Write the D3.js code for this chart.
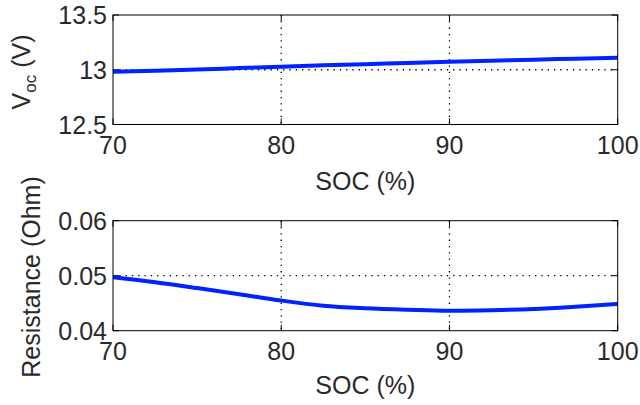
<!DOCTYPE html>
<html>
<head>
<meta charset="utf-8">
<script src="https://cdn.jsdelivr.net/npm/d3@7"></script>
<style>
  html, body { margin: 0; padding: 0; background: #fff; }
  svg { display: block; }
  text { font-family: "Liberation Sans", Arial, Helvetica, sans-serif; fill: #2a2a2a; }
</style>
</head>
<body>
<svg id="chart" width="640" height="405"></svg>
<script>
// ---- data ----
const soc = [70, 72.5, 75, 77.5, 80, 82.5, 85, 87.5, 90, 92.5, 95, 97.5, 100];
const voc = [12.982, 12.991, 13.002, 13.015, 13.028, 13.040, 13.050, 13.062, 13.072, 13.082, 13.092, 13.101, 13.110];
const resistance = [0.0497, 0.0488, 0.04775, 0.04664, 0.04548, 0.04455, 0.04409, 0.04382, 0.04364, 0.04373, 0.04395, 0.04436, 0.04485];
const xTicks = [70, 80, 90, 100];
const vocTicks = [12.5, 13, 13.5];
const resTicks = [0.04, 0.05, 0.06];
const xLabel = "SOC (%)";

const svg = d3.select("#chart");
const left = 113, right = 617.7;
const x = d3.scaleLinear().domain([70, 100]).range([left, right]);

function panel(top, bottom, yDomain, yTicks, values, yFmt, gridY, labelOffset) {
  const y = d3.scaleLinear().domain(yDomain).range([bottom, top]);
  const g = svg.append("g");
  // grid
  xTicks.filter(t => t > 70 && t < 100).forEach(t => {
    g.append("line").attr("x1", x(t)).attr("x2", x(t)).attr("y1", top).attr("y2", bottom)
      .attr("stroke", "#000").attr("stroke-width", 1.3).attr("stroke-dasharray", "1.3,5");
  });
  g.append("line").attr("x1", left).attr("x2", right).attr("y1", y(gridY)).attr("y2", y(gridY))
    .attr("stroke", "#000").attr("stroke-width", 1.3).attr("stroke-dasharray", "1.3,5");
  // ticks inward on all sides
  xTicks.forEach(t => {
    g.append("line").attr("x1", x(t)).attr("x2", x(t)).attr("y1", bottom).attr("y2", bottom - 6).attr("stroke", "#000");
    g.append("line").attr("x1", x(t)).attr("x2", x(t)).attr("y1", top).attr("y2", top + 6).attr("stroke", "#000");
    g.append("text").attr("x", x(t)).attr("y", bottom + 29).attr("text-anchor", "middle")
      .attr("font-size", 25).text(t);
  });
  yTicks.forEach(t => {
    g.append("line").attr("x1", left).attr("x2", left + 6).attr("y1", y(t)).attr("y2", y(t)).attr("stroke", "#000");
    g.append("line").attr("x1", right).attr("x2", right - 6).attr("y1", y(t)).attr("y2", y(t)).attr("stroke", "#000");
    g.append("text").attr("x", left - 6).attr("y", y(t)).attr("dy", "0.36em").attr("text-anchor", "end")
      .attr("font-size", 25).text(yFmt(t));
  });
  // data line
  const line = d3.line().x((d, i) => x(soc[i])).y(d => y(d)).curve(d3.curveMonotoneX);
  g.append("path").datum(values).attr("d", line).attr("fill", "none")
    .attr("stroke", "#0022ff").attr("stroke-width", 4);
  // box
  g.append("rect").attr("x", left).attr("y", top).attr("width", right - left).attr("height", bottom - top)
    .attr("fill", "none").attr("stroke", "#000").attr("stroke-width", 1);
  // x label
  g.append("text").attr("x", (left + right) / 2).attr("y", bottom + labelOffset).attr("text-anchor", "middle")
    .attr("font-size", 25).text(xLabel);
  return g;
}

panel(15, 124.5, [12.5, 13.5], vocTicks, voc, d => d3.format("")(d), 13, 65.5);
panel(220.7, 330.7, [0.04, 0.06], resTicks, resistance, d => d.toFixed(2), 0.05, 63);

// y labels
const yl1 = svg.append("text").attr("transform", "translate(30,72) rotate(-90)")
  .attr("text-anchor", "middle").attr("font-size", 25);
yl1.append("tspan").text("V");
yl1.append("tspan").attr("font-size", 17).attr("dy", 6).text("oc");
yl1.append("tspan").attr("dy", -6).text(" (V)");

svg.append("text").attr("transform", "translate(40,277) rotate(-90)")
  .attr("text-anchor", "middle").attr("font-size", 25).text("Resistance (Ohm)");
</script>
</body>
</html>
